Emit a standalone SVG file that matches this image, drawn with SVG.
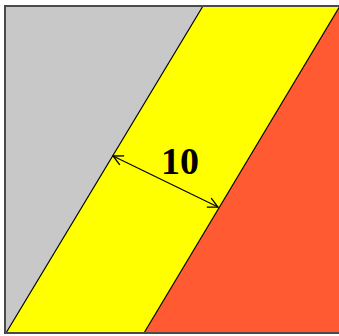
<svg xmlns="http://www.w3.org/2000/svg" width="339" height="336" viewBox="0 0 339 336">
<defs>
<style>
.edge{stroke:#000;stroke-width:1.2;fill:none}
.lbl{font-family:"Liberation Serif","Times New Roman",serif;font-weight:bold;font-size:38px;fill:#000}
</style>
<marker id="ah" viewBox="0 0 12 12" refX="11" refY="6" markerWidth="12" markerHeight="12" markerUnits="userSpaceOnUse" orient="auto-start-reverse">
<polyline points="1,1 11,6 1,11" fill="none" stroke="#000" stroke-width="1.3"/>
</marker>
</defs>
<rect x="0" y="0" width="339" height="336" fill="#fff"/>
<g id="grey-region"><polygon points="5,6 203,6 6,333 5,333" fill="#c8c8c8"/></g>
<g id="yellow-band"><polygon points="203,6 340,6 144,333 6,333" fill="#ffff00"/></g>
<g id="red-region"><polygon points="340,6 339,6 339,333 144,333" fill="#ff5a32"/></g>
<g id="boundaries">
<line class="edge" x1="203" y1="6" x2="6" y2="333"/>
<line class="edge" x1="340" y1="6" x2="144" y2="333"/>
</g>
<rect x="5" y="6" width="340" height="327" fill="none" stroke="#4a4a4a" stroke-width="2"/>
<g id="connectors">
<line class="edge" x1="113" y1="156" x2="218" y2="207" marker-start="url(#ah)" marker-end="url(#ah)"/>
</g>
<g id="label"><text class="lbl" x="180" y="174" text-anchor="middle">10</text></g>
</svg>
